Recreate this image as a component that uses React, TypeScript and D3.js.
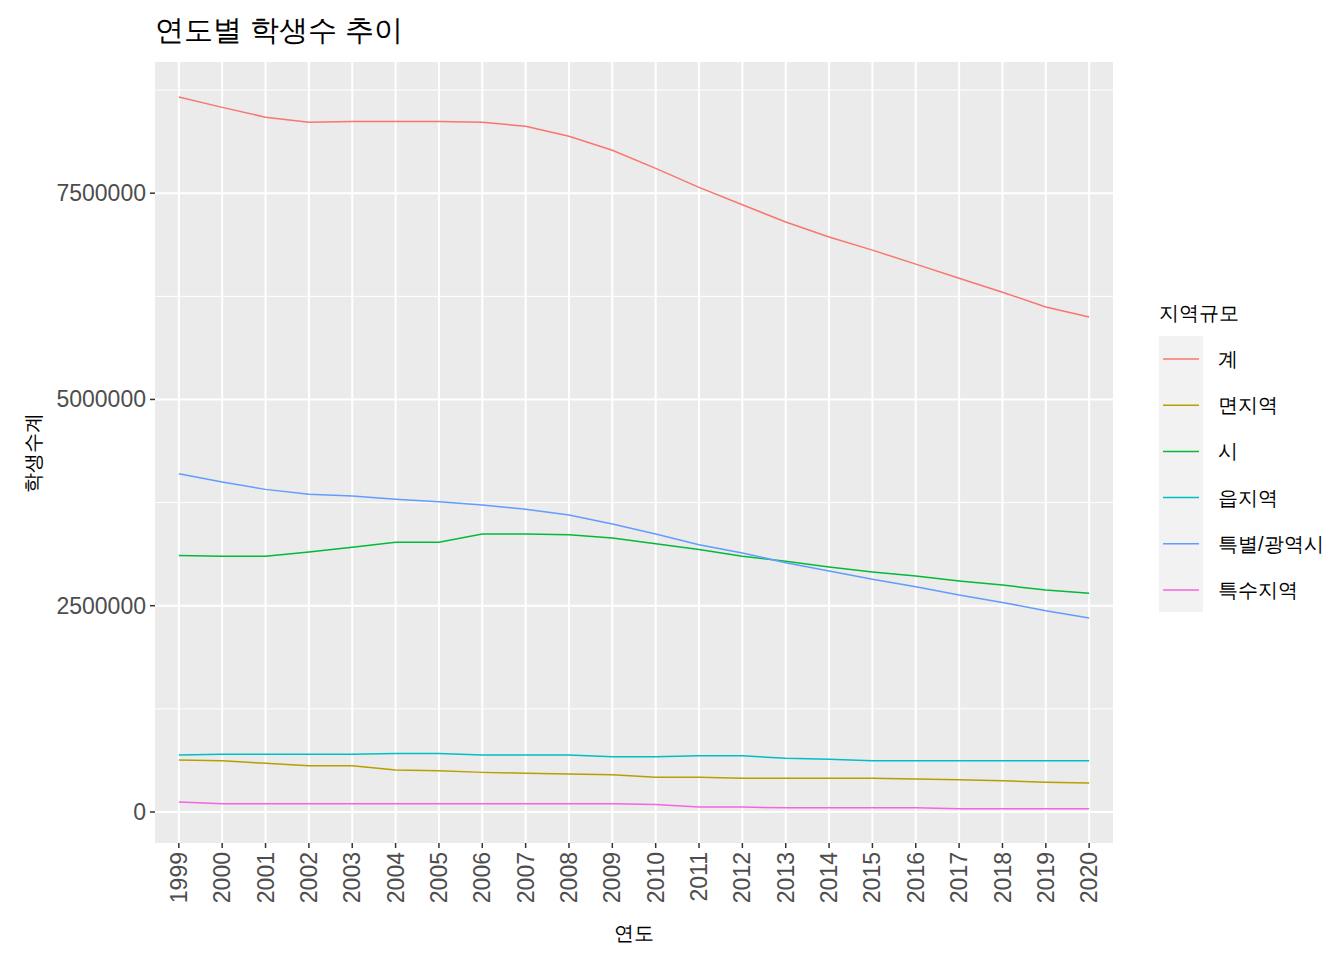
import React from 'react';
import * as d3 from 'd3';

const years = d3.range(1999, 2021).map(String);
const seriesNames = ['계', '면지역', '시', '읍지역', '특별/광역시', '특수지역'];
const colors = ['#F8766D', '#B79F00', '#00BA38', '#00BFC4', '#619CFF', '#F564E3'];

const total = [8.665, 8.54, 8.42, 8.36, 8.37, 8.37, 8.37, 8.36, 8.31, 8.19, 8.02, 7.8, 7.57, 7.36, 7.15, 6.97, 6.81, 6.64, 6.47, 6.3, 6.12, 6.0];
const myeon = [0.63, 0.62, 0.59, 0.56, 0.56, 0.51, 0.5, 0.48, 0.47, 0.46, 0.45, 0.42, 0.42, 0.41, 0.41, 0.41, 0.41, 0.4, 0.39, 0.38, 0.36, 0.35];
const si = [3.11, 3.1, 3.1, 3.15, 3.21, 3.27, 3.27, 3.37, 3.37, 3.36, 3.32, 3.25, 3.18, 3.1, 3.04, 2.97, 2.91, 2.86, 2.8, 2.75, 2.69, 2.65];
const eup = [0.69, 0.7, 0.7, 0.7, 0.7, 0.71, 0.71, 0.69, 0.69, 0.69, 0.67, 0.67, 0.68, 0.68, 0.65, 0.64, 0.62, 0.62, 0.62, 0.62, 0.62, 0.62];
const metro = [4.1, 4.0, 3.91, 3.85, 3.83, 3.79, 3.76, 3.72, 3.67, 3.6, 3.49, 3.37, 3.24, 3.14, 3.02, 2.92, 2.82, 2.73, 2.63, 2.54, 2.44, 2.35];
const special = [0.12, 0.1, 0.1, 0.1, 0.1, 0.1, 0.1, 0.1, 0.1, 0.1, 0.1, 0.09, 0.06, 0.06, 0.05, 0.05, 0.05, 0.05, 0.04, 0.04, 0.04, 0.04];
const seriesValues = [total, myeon, si, eup, metro, special];
const yTicks = [0, 2500000, 5000000, 7500000];

const W = 1344, H = 960;
const left = 155, right = 1113, top = 62, bottom = 843;

export default function App() {
  const x = d3.scalePoint<string>().domain(years).range([left, right]).padding(0.55);
  const y = d3.scaleLinear().domain([-376000, 9090000]).range([bottom, top]);
  const line = d3.line<number>().x((_, i) => x(years[i]) as number).y(d => y(d * 1e6));
  const minor = yTicks.map(t => t + 1250000);
  const font = 'Liberation Sans, Arial, sans-serif';

  return (
    <svg width={W} height={H} style={{ position: 'absolute', left: 0, top: 0 }} fontFamily={font}>
      <rect width={W} height={H} fill="white" />
      <rect x={left} y={top} width={right - left} height={bottom - top} fill="#EBEBEB" />
      {minor.map(t => (
        <line key={'m' + t} x1={left} x2={right} y1={y(t)} y2={y(t)} stroke="white" strokeWidth={1} />
      ))}
      {yTicks.map(t => (
        <line key={'g' + t} x1={left} x2={right} y1={y(t)} y2={y(t)} stroke="white" strokeWidth={2} />
      ))}
      {years.map(yr => (
        <line key={'v' + yr} x1={x(yr)} x2={x(yr)} y1={top} y2={bottom} stroke="white" strokeWidth={2} />
      ))}
      {seriesValues.map((s, i) => (
        <path key={i} d={line(s) || ''} fill="none" stroke={colors[i]} strokeWidth={1.5} />
      ))}
      {yTicks.map(t => (
        <g key={'t' + t}>
          <line x1={left - 5} x2={left} y1={y(t)} y2={y(t)} stroke="#333" strokeWidth={1.5} />
          <text x={left - 9} y={y(t)} dy="0.35em" textAnchor="end" fontSize={23} fill="#4D4D4D">{t}</text>
        </g>
      ))}
      {years.map(yr => (
        <g key={'xt' + yr}>
          <line x1={x(yr)} x2={x(yr)} y1={bottom} y2={bottom + 5} stroke="#333" strokeWidth={1.5} />
          <text transform={`translate(${x(yr)},${bottom + 9}) rotate(-90)`} dy="0.35em" textAnchor="end" fontSize={23} fill="#4D4D4D">{yr}</text>
        </g>
      ))}
      <text x={(left + right) / 2} y={940} textAnchor="middle" fontSize={20}>연도</text>
      <text transform={`translate(40,${(top + bottom) / 2}) rotate(-90)`} textAnchor="middle" fontSize={20}>학생수계</text>
      <text x={left} y={40} fontSize={29}>연도별 학생수 추이</text>
      <text x={1159} y={320} fontSize={20}>지역규모</text>
      <rect x={1159} y={336} width={44} height={276} fill="#F2F2F2" />
      {seriesNames.map((n, i) => {
        const cy = 359 + i * 46.2;
        return (
          <g key={n}>
            <line x1={1163} x2={1199} y1={cy} y2={cy} stroke={colors[i]} strokeWidth={1.5} />
            <text x={1218} y={cy} dy="0.35em" fontSize={20}>{n}</text>
          </g>
        );
      })}
    </svg>
  );
}
